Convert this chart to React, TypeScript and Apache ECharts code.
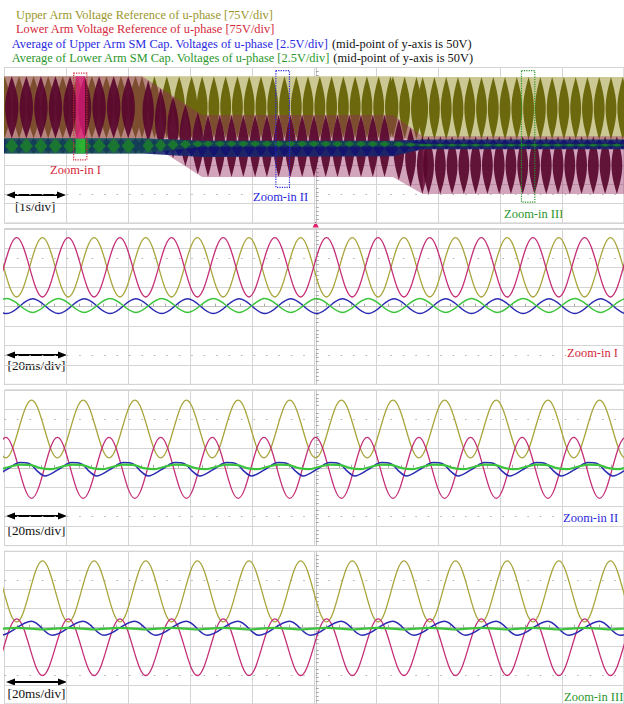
import React, { useEffect, useRef } from "react";
import * as echarts from "echarts";

const FONT = '"Liberation Serif", "Times New Roman", serif';

// ---------- Overview panel (1 s/div): envelope breakpoints ----------
const overviewTime = [0, 2.22, 3.19, 6.27, 6.75, 10]; // s
const upperArmMax = [266, 266, 266, 266, 263, 263]; // V (75 V/div)
const upperArmMin = [26, 26, 30, 30, 20, 20];
const lowerArmMax = [266, 266, 117, 117, 35, 35];
const lowerArmMin = [26, 26, -122, -122, -188, -188];
const upperCapMax = [50.9, 50.9, 50.6, 50.6, 50.75, 50.75]; // V (2.5 V/div, mid 50 V)
const upperCapMin = [48.95, 48.95, 48.5, 48.6, 49.5, 49.5];
const lowerCapMax = [50.9, 50.9, 50.6, 50.55, 50.2, 50.2];
const lowerCapMin = [48.95, 48.95, 49.8, 49.8, 49.85, 49.85];
const aliasPeriod = [0.235, 0.2, 0.19, 0.19, 0.19]; // s, visible lobe spacing per segment

const zoomStart = [1.117, 4.38, 8.345]; // s
const zoomEnd = [1.33, 4.6, 8.56];
const zoomTop = [278, 288, 288]; // V
const zoomBottom = [-56, -162, -219];

// ---------- Zoom-in panels (20 ms/div): cycle starts (lower-arm peaks) and one-cycle shapes ----------
const zoomICycleStart = [-12.75, 3.92, 20.59, 37.26, 53.93, 70.6, 87.27, 103.94, 120.61, 137.28, 153.95, 170.62, 187.29, 203.96];
const zoomIUpperArm = [[0, 37], [8.33, 266]];
const zoomILowerArm = [[0, 266], [8.33, 37]];
const zoomIUpperCap = [[5.17, 51.0], [13.5, 49.1]];
const zoomILowerCap = [[5.17, 49.25], [13.5, 51.03]];

const zoomIICycleStart = [-16.26, 0.41, 17.08, 33.75, 50.42, 67.09, 83.76, 100.43, 117.1, 133.77, 150.44, 167.11, 183.78, 200.45];
const zoomIIUpperArm = [[0, 38], [8.33, 261]];
const zoomIILowerArm = [[0, 117], [8.33, -118]];
const zoomIIUpperCap = [[0.6, 49.85], [4.6, 50.68], [7.8, 50.5], [10.4, 49.5], [12.6, 48.96]];
const zoomIILowerCap = [[1.0, 50.1], [4.8, 50.4], [7.6, 50.38], [11.2, 49.95], [14.4, 49.82]];

const zoomIIICycleStart = [-12.73, 3.94, 20.61, 37.28, 53.95, 70.62, 87.29, 103.96, 120.63, 137.3, 153.97, 170.64, 187.31, 203.98];
const zoomIIIUpperArm = [[0, 22.5], [8.33, 262]];
const zoomIIILowerArm = [[0, 34.5], [8.33, -188]];
const zoomIIIUpperCap = [[4.76, 50.85], [11.56, 49.0]];
const zoomIIILowerCap = [[0, 49.96], [8.33, 49.76]];

const legendLines = [
  "Upper Arm Voltage Reference of u-phase [75V/div]",
  "Lower Arm Voltage Reference of u-phase [75V/div]",
  "Average of Upper Arm SM Cap. Voltages of u-phase [2.5V/div]",
  "Average of Lower Arm SM Cap. Voltages of u-phase [2.5V/div]",
];
const legendNote = " (mid-point of y-axis is 50V)";
const zoomNames = ["Zoom-in I", "Zoom-in II", "Zoom-in III"];

// ---------- styling ----------
const OLIVE = "#a8a53c";
const MAGENTA = "#c42e76";
const BLUE = "#2a2ab2";
const GREEN = "#3cc43c";
const TXT_OLIVE = "#9a972c";
const TXT_RED = "#d6283a";
const TXT_BLUE = "#2828e0";
const TXT_GREEN = "#2a962a";
const GRID_COLOR = "#d4d4d4";

const panelTop = [67.5, 228.8, 390, 551.3];
const panelHeight = 155.6;
const gridLeft = 4.5;
const gridWidth = 622.5;
const xMax = [10, 200, 200, 200];
const xStep = [1, 20, 20, 20];

function cycles(starts: number[], shape: number[][]) {
  const out: number[][] = [];
  for (const s of starts) for (const [dt, v] of shape) out.push([+(s + dt).toFixed(2), v]);
  return out;
}

function segments(mx: number[], mn: number[]) {
  return overviewTime.slice(0, -1).map((t, i) => [t, overviewTime[i + 1], mx[i], mx[i + 1], mn[i], mn[i + 1]]);
}

function bandRenderer(bgFill: string, lobeFill: string, phase: number, diamond: boolean) {
  return (params: any, api: any) => {
    const t0 = api.value(0), t1 = api.value(1);
    const a0 = api.value(2), a1 = api.value(3), b0 = api.value(4), b1 = api.value(5);
    const P = aliasPeriod[params.dataIndex];
    const children: any[] = [
      {
        type: "polygon",
        shape: { points: [api.coord([t0, a0]), api.coord([t1, a1]), api.coord([t1, b1]), api.coord([t0, b0])] },
        style: { fill: bgFill },
      },
    ];
    const hw = (api.size([P, 0])[0] / 2) * 0.92;
    const N = diamond ? 2 : 14;
    for (let t = t0 + phase * P; t < t1; t += P) {
      const f = (t - t0) / (t1 - t0);
      const hi = a0 + (a1 - a0) * f;
      const lo = b0 + (b1 - b0) * f;
      const top = api.coord([t, hi]);
      const bot = api.coord([t, lo]);
      const prof = (g: number) => (diamond ? 1 - Math.abs(2 * g - 1) : Math.sin(Math.PI * g));
      const pts: number[][] = [];
      for (let i = 0; i <= N; i++) {
        const g = i / N;
        pts.push([top[0] + hw * prof(g), top[1] + (bot[1] - top[1]) * g]);
      }
      for (let i = N - 1; i >= 1; i--) {
        const g = i / N;
        pts.push([top[0] - hw * prof(g), top[1] + (bot[1] - top[1]) * g]);
      }
      children.push({ type: "polygon", shape: { points: pts }, style: { fill: lobeFill } });
    }
    return { type: "group", children };
  };
}

function text(x: number, y: number, t: string, fill: string, size: number) {
  return {
    type: "text",
    x,
    y,
    silent: true,
    style: { text: t, fill, font: `${size}px ${FONT}`, textVerticalAlign: "middle" },
  };
}

function arrow(x0: number, x1: number, y: number) {
  return [
    { type: "line", silent: true, shape: { x1: x0 + 6, y1: y, x2: x1 - 6, y2: y }, style: { stroke: "#000", lineWidth: 2 } },
    { type: "polygon", silent: true, shape: { points: [[x0, y], [x0 + 9, y - 3.5], [x0 + 9, y + 3.5]] }, style: { fill: "#000" } },
    { type: "polygon", silent: true, shape: { points: [[x1, y], [x1 - 9, y - 3.5], [x1 - 9, y + 3.5]] }, style: { fill: "#000" } },
  ];
}

function buildOption() {
  const grid = panelTop.map((top) => ({
    left: gridLeft,
    top,
    width: gridWidth,
    height: panelHeight,
    show: true,
    borderColor: "#bebebe",
    borderWidth: 1,
  }));
  const xAxis = panelTop.map((_, k) => ({
    type: "value",
    gridIndex: k,
    min: 0,
    max: xMax[k],
    interval: xStep[k],
    axisLabel: { show: false },
    axisTick: { show: false, inside: true },
    minorTick: { show: true, splitNumber: 5, length: 3, lineStyle: { color: "#a9a9a9" } },
    axisLine: { show: true, onZero: true, lineStyle: { color: "#c4c4c4" } },
    splitLine: { show: true, lineStyle: { color: GRID_COLOR } },
  }));
  const yAxis: any[] = [];
  panelTop.forEach((_, k) => {
    yAxis.push({
      type: "value", gridIndex: k, min: -300, max: 300, interval: 75, position: "left",
      axisLabel: { show: false }, axisTick: { show: false }, axisLine: { show: false },
      splitLine: { show: true, lineStyle: { color: GRID_COLOR } },
    });
    yAxis.push({ type: "value", gridIndex: k, min: 40, max: 60, interval: 2.5, position: "right", show: false });
    yAxis.push({
      type: "value", gridIndex: k, min: -300, max: 300, interval: 75, position: "left", offset: -gridWidth / 2,
      axisLabel: { show: false }, axisTick: { show: false, inside: true },
      minorTick: { show: true, splitNumber: 5, length: 3, lineStyle: { color: "#a9a9a9" } },
      axisLine: { show: true, onZero: false, lineStyle: { color: "#c4c4c4" } },
      splitLine: { show: false },
    });
  });

  const dotted = (z: number) => ({
    silent: true,
    z,
    symbol: ["none", "none"],
    label: { show: false },
    lineStyle: { type: [1.5, 10.95], color: "#b0b0b0", width: 1 },
    data: [{ yAxis: 187.5 }, { yAxis: -187.5 }],
  });

  const series: any[] = [];
  // overview bands
  const band = (ya: number, bg: string, lobe: string, phase: number, diamond: boolean, mx: number[], mn: number[]) => ({
    type: "custom", xAxisIndex: 0, yAxisIndex: ya, silent: true, clip: true, z: 2,
    renderItem: bandRenderer(bg, lobe, phase, diamond), data: segments(mx, mn), encode: { x: [0, 1], y: [2, 3, 4, 5] },
  });
  series.push(band(0, "#cbc894", "#6b680e", 0, false, upperArmMax, upperArmMin));
  series.push(band(0, "rgba(150,40,95,0.42)", "rgba(88,6,44,0.92)", 0.5, false, lowerArmMax, lowerArmMin));
  series.push(band(1, "rgba(22,40,110,0.9)", "#14146e", 0.0, true, upperCapMax, upperCapMin));
  series.push(band(1, "rgba(20,110,60,0.45)", "rgba(26,120,46,0.95)", 0.5, true, lowerCapMax, lowerCapMin));

  // overview markers: zoom windows, highlight of window I, dotted rows
  const boxColors = [TXT_RED, TXT_BLUE, TXT_GREEN];
  series.push({
    type: "line", xAxisIndex: 0, yAxisIndex: 0, data: [], silent: true, z: 5,
    markLine: dotted(1),
    markArea: {
      silent: true,
      z: 10,
      label: { show: false },
      data: [
        [
          { xAxis: zoomStart[0] + 0.03, yAxis: upperArmMax[0], itemStyle: { color: "rgba(228,30,125,0.72)", borderWidth: 0 } },
          { xAxis: zoomEnd[0] - 0.03, yAxis: upperArmMin[0] },
        ],
        ...zoomStart.map((s, i) => [
          { xAxis: s, yAxis: zoomTop[i], itemStyle: { color: "rgba(0,0,0,0)", borderColor: boxColors[i], borderWidth: 1.2, borderType: "dotted" } },
          { xAxis: zoomEnd[i], yAxis: zoomBottom[i] },
        ]),
      ],
    },
  });
  series.push({
    type: "line", xAxisIndex: 0, yAxisIndex: 1, data: [], silent: true, z: 4,
    markArea: {
      silent: true,
      z: 9,
      label: { show: false },
      data: [[
        { xAxis: zoomStart[0] + 0.03, yAxis: lowerCapMax[0], itemStyle: { color: "rgba(50,200,50,0.75)", borderWidth: 0 } },
        { xAxis: zoomEnd[0] - 0.03, yAxis: lowerCapMin[0] },
      ]],
    },
  });

  const panels = [
    { starts: zoomICycleStart, upper: zoomIUpperArm, lower: zoomILowerArm, ucap: zoomIUpperCap, lcap: zoomILowerCap },
    { starts: zoomIICycleStart, upper: zoomIIUpperArm, lower: zoomIILowerArm, ucap: zoomIIUpperCap, lcap: zoomIILowerCap },
    { starts: zoomIIICycleStart, upper: zoomIIIUpperArm, lower: zoomIIILowerArm, ucap: zoomIIIUpperCap, lcap: zoomIIILowerCap },
  ];
  const line = (k: number, ya: number, data: number[][], color: string, width: number, extra: any = {}) => ({
    type: "line", xAxisIndex: k, yAxisIndex: ya, data, symbol: "none", showSymbol: false, smooth: 0.36,
    silent: true, lineStyle: { color, width }, z: 3, ...extra,
  });
  panels.forEach((p, j) => {
    const k = j + 1;
    series.push(line(k, 3 * k, cycles(p.starts, p.upper), OLIVE, 1.3, { markLine: dotted(1) }));
    series.push(line(k, 3 * k, cycles(p.starts, p.lower), MAGENTA, 1.3));
    series.push(line(k, 3 * k + 1, cycles(p.starts, p.ucap), BLUE, 1.5));
    series.push(line(k, 3 * k + 1, cycles(p.starts, p.lcap), GREEN, k === 1 ? 1.5 : 2.2));
  });

  const graphic: any[] = [
    text(16, 14.5, legendLines[0], TXT_OLIVE, 12.4),
    text(16, 29, legendLines[1], TXT_RED, 12.4),
    {
      type: "text", x: 11.7, y: 43.5, silent: true,
      style: {
        text: `{a|${legendLines[2]}}{b|${legendNote}}`,
        rich: { a: { fill: TXT_BLUE, font: `12.4px ${FONT}` }, b: { fill: "#111", font: `12.4px ${FONT}` } },
        textVerticalAlign: "middle",
      },
    },
    {
      type: "text", x: 11.7, y: 58.3, silent: true,
      style: {
        text: `{a|${legendLines[3]}}{b|${legendNote}}`,
        rich: { a: { fill: TXT_GREEN, font: `12.4px ${FONT}` }, b: { fill: "#111", font: `12.4px ${FONT}` } },
        textVerticalAlign: "middle",
      },
    },
    // overview annotations
    text(50, 169.5, zoomNames[0], TXT_RED, 12.5),
    text(253, 196.5, zoomNames[1], TXT_BLUE, 12.5),
    text(504, 213.5, zoomNames[2], TXT_GREEN, 12.5),
    ...arrow(6, 66, 195),
    text(15, 206, "[1s/div]", "#111", 13),
    // zoom panels
    ...arrow(6, 67, 355),
    text(7.5, 365.5, "[20ms/div]", "#111", 13.2),
    text(567, 352.5, zoomNames[0], TXT_RED, 12.5),
    ...arrow(6, 67, 516),
    text(7.5, 530, "[20ms/div]", "#111", 13.2),
    text(563, 518, zoomNames[1], TXT_BLUE, 12.5),
    ...arrow(6, 67, 682),
    text(7.5, 693.5, "[20ms/div]", "#111", 13.2),
    text(564, 696.5, zoomNames[2], TXT_GREEN, 12.5),
    // trigger marker
    { type: "polygon", silent: true, shape: { points: [[312.6, 227.5], [318.8, 227.5], [315.7, 221.5]] }, style: { fill: "#e0206a" } },
  ];

  return {
    animation: false,
    backgroundColor: "#ffffff",
    grid,
    xAxis,
    yAxis,
    series,
    graphic,
  };
}

export default function App() {
  const ref = useRef<HTMLDivElement>(null);
  useEffect(() => {
    const chart = echarts.init(ref.current as HTMLDivElement, null, { renderer: "svg" });
    chart.setOption(buildOption() as any);
    return () => chart.dispose();
  }, []);
  return <div ref={ref} style={{ position: "fixed", left: 0, top: 0, width: 624, height: 704, background: "#fff" }} />;
}
